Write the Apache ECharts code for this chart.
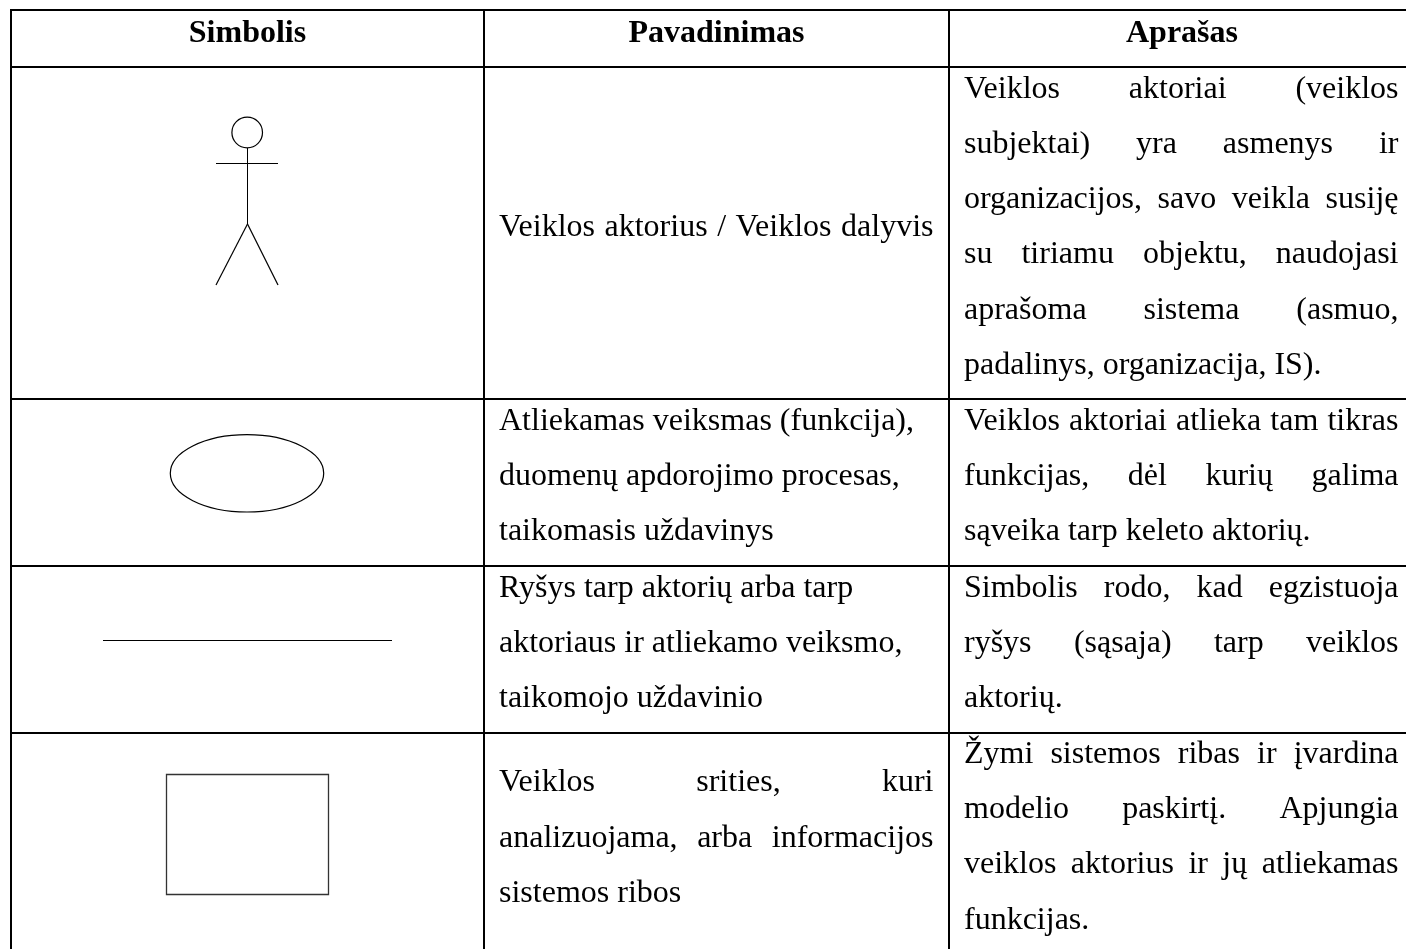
<!DOCTYPE html>
<html>
<head>
<meta charset="utf-8">
<style>
html,body{margin:0;padding:0;background:#fff}
#chart{width:1406px;height:949px}
</style>
<script src="https://cdn.jsdelivr.net/npm/echarts@6/dist/echarts.min.js"></script>
</head>
<body>
<div id="chart"></div>
<script>
var headers = ['Simbolis', 'Pavadinimas', 'Aprašas'];

// '|' marks a justified line, everything else is left as it is
var names = [
  ['|Veiklos aktorius / Veiklos dalyvis'],
  ['Atliekamas veiksmas (funkcija),', 'duomenų apdorojimo procesas,', 'taikomasis uždavinys'],
  ['Ryšys tarp aktorių arba tarp', 'aktoriaus ir atliekamo veiksmo,', 'taikomojo uždavinio'],
  ['|Veiklos srities, kuri', '|analizuojama, arba informacijos', 'sistemos ribos']
];
var descriptions = [
  ['|Veiklos aktoriai (veiklos', '|subjektai) yra asmenys ir', '|organizacijos, savo veikla susiję', '|su tiriamu objektu, naudojasi', '|aprašoma sistema (asmuo,', 'padalinys, organizacija, IS).'],
  ['|Veiklos aktoriai atlieka tam tikras', '|funkcijas, dėl kurių galima', 'sąveika tarp keleto aktorių.'],
  ['|Simbolis rodo, kad egzistuoja', '|ryšys (sąsaja) tarp veiklos', 'aktorių.'],
  ['|Žymi sistemos ribas ir įvardina', '|modelio paskirtį. Apjungia', '|veiklos aktorius ir jų atliekamas', 'funkcijas.']
];

var colLines = [11, 484, 949];
var rowLines = [10, 67, 399, 566, 733];
var headerY = 41;
var nameY = [[235], [429, 484, 539], [596, 651, 706], [790, 846, 901]];
var descY = [[97, 152, 207, 262, 318, 373], [429, 484, 539], [596, 651, 706], [762, 817, 872, 928]];

var font = '"Liberation Serif", "Times New Roman", serif';
var fontSize = 32;
var baselineShift = 7.5; // text is placed by its middle, rows are read by baseline
var measure = document.createElement('canvas').getContext('2d');

function textWidth(str) {
  measure.font = fontSize + 'px ' + font;
  return measure.measureText(str).width;
}

function label(str, x, baseline, align, weight) {
  return {
    type: 'text',
    x: x,
    y: baseline - baselineShift,
    style: {
      text: str,
      x: 0,
      y: 0,
      fill: '#000',
      font: (weight || 'normal') + ' ' + fontSize + 'px ' + font,
      textAlign: align || 'left',
      textVerticalAlign: 'middle'
    }
  };
}

// one paragraph line, spread over the cell when it starts with |
function lineElements(line, left, right, baseline) {
  if (line.charAt(0) !== '|') {
    return [label(line, left, baseline)];
  }
  var words = line.slice(1).split(' ');
  var total = 0;
  words.forEach(function (w) { total += textWidth(w); });
  var gap = (right - left - total) / (words.length - 1);
  var x = left;
  return words.map(function (w) {
    var el = label(w, x, baseline);
    x += textWidth(w) + gap;
    return el;
  });
}

function stroke(width) {
  return { stroke: '#000', lineWidth: width, fill: 'none' };
}

function seg(x1, y1, x2, y2, width) {
  return { type: 'line', shape: { x1: x1, y1: y1, x2: x2, y2: y2 }, style: stroke(width) };
}

var elements = [];

// table rules, the right border falls off the page
colLines.forEach(function (x) {
  elements.push(seg(x, rowLines[0] - 1, x, 949, 2));
});
rowLines.forEach(function (y) {
  elements.push(seg(colLines[0] - 1, y, 1406, y, 2));
});

// symbols
elements.push({ type: 'circle', shape: { cx: 247.2, cy: 132.5, r: 15.3 }, style: stroke(1.2) });
elements.push(seg(247.5, 148, 247.5, 224, 1));
elements.push(seg(216, 163.5, 278, 163.5, 1));
elements.push(seg(247.5, 224, 216, 285, 1.2));
elements.push(seg(247.5, 224, 278, 285, 1.2));
elements.push({ type: 'ellipse', shape: { cx: 247, cy: 473.3, rx: 76.7, ry: 38.7 }, style: stroke(1.2) });
elements.push(seg(103, 640.5, 392, 640.5, 1));
elements.push({ type: 'rect', shape: { x: 166.5, y: 774.5, width: 162, height: 120 }, style: { stroke: '#333', lineWidth: 1.3, fill: 'none' } });

// text, the last column runs past the page edge so its header sits right of the visible middle
var colEnds = colLines.concat(1415);
headers.forEach(function (h, i) {
  elements.push(label(h, (colEnds[i] + colEnds[i + 1]) / 2, headerY, 'center', 'bold'));
});
names.forEach(function (cell, r) {
  cell.forEach(function (line, i) {
    elements = elements.concat(lineElements(line, 499, 933.5, nameY[r][i]));
  });
});
descriptions.forEach(function (cell, r) {
  cell.forEach(function (line, i) {
    elements = elements.concat(lineElements(line, 964, 1398.5, descY[r][i]));
  });
});

var chart = echarts.init(document.getElementById('chart'));
chart.setOption({
  backgroundColor: '#fff',
  animation: false,
  graphic: { elements: elements }
});
</script>
</body>
</html>
